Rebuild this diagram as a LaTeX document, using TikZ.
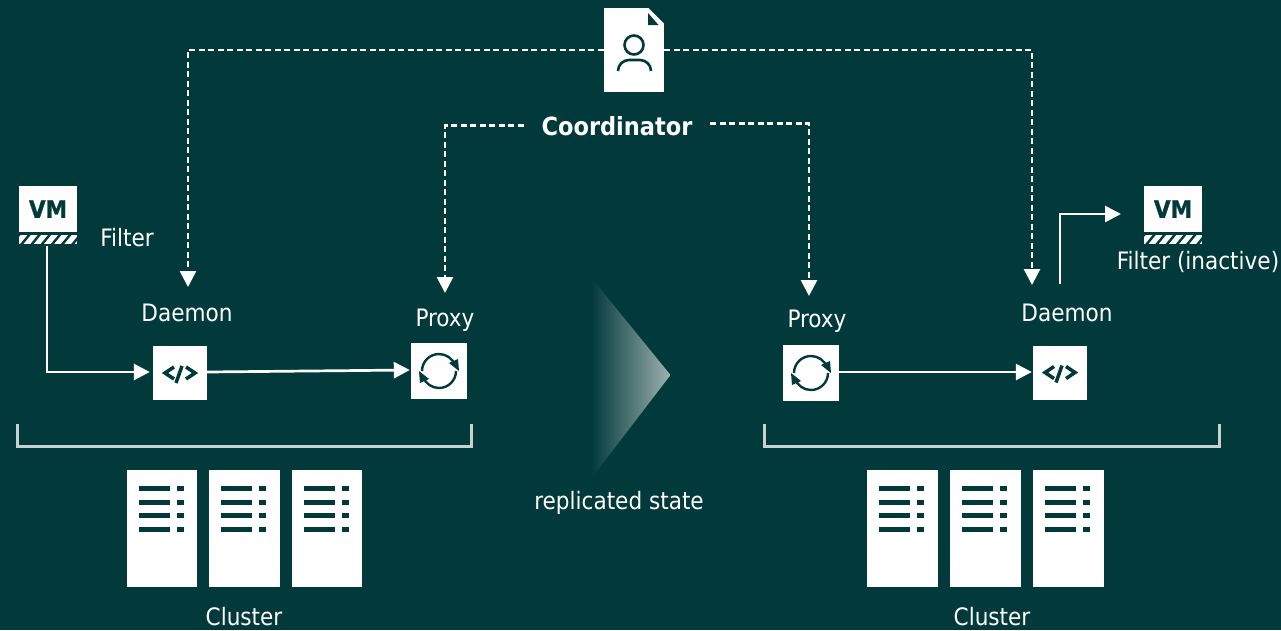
\documentclass[tikz,border=0pt]{standalone}
\usepackage{fontspec}
\setmainfont{DejaVu Sans Condensed}
\usetikzlibrary{arrows.meta,calc}
\definecolor{bg}{HTML}{023A3C}
\definecolor{tipcol}{HTML}{9DB2B0}
\definecolor{brk}{HTML}{C9D1D0}
\tikzset{
  x=1pt,y=-1pt,
  lbl/.style={text=white,font=\fontsize{24}{26}\selectfont,inner sep=0pt},
  iconbox/.style={fill=white,draw=none,inner sep=0pt,minimum width=#1,minimum height=#1},
  vmbox/.style={fill=white,inner sep=0pt,minimum width=58pt,minimum height=46pt,text=bg,font=\bfseries\fontsize{24}{26}\selectfont\addfontfeatures{FakeBold=1.2}},
  vmstrip/.style={fill=white,inner sep=0pt,minimum width=58pt,minimum height=9pt},
  server/.style={fill=white,inner sep=0pt,minimum width=70.5pt,minimum height=117pt},
  dashline/.style={draw=white,line width=2.7pt,dash pattern=on 6pt off 3.5pt,-{Triangle[width=16pt,length=16pt]}},
  solidline/.style={draw=white,line width=2.7pt,-{Triangle[width=16pt,length=16pt]}},
  iconline/.style={draw=bg,line width=3.5pt},
  bracket/.style={draw=brk,line width=3pt}
}
\newcommand{\hatchstrip}[1]{%
  \begin{scope}
    \clip (#1.north west) rectangle (#1.south east);
    \foreach \k in {-1,...,6} {
      \draw[bg,line width=2.4pt] ($(#1.south west)+(\k*10.2+2,1)$) -- ($(#1.south west)+(\k*10.2+11,-10)$);
    }
  \end{scope}}
\newcommand{\serverlines}[1]{%
  \foreach \r in {19,32.5,46,60} {
    \fill[bg] ($(#1.north west)+(12,\r-2.5)$) rectangle ($(#1.north west)+(43,\r+2.5)$);
    \fill[bg] ($(#1.north west)+(50,\r-2.5)$) rectangle ($(#1.north west)+(57,\r+2.5)$);
  }}
\newcommand{\codeicon}[1]{%
  \draw[iconline,line cap=butt] ($(#1)+(-6,-6)$) -- ($(#1)+(-15,0)$) -- ($(#1)+(-6,6)$);
  \draw[iconline] ($(#1)+(2,-7)$) -- ($(#1)+(-4,10)$);
  \draw[iconline] ($(#1)+(6,-6)$) -- ($(#1)+(15,0)$) -- ($(#1)+(6,6)$);}
\newcommand{\syncicon}[1]{%
  \draw[draw=bg,line width=2.4pt] ($(#1)+(-17,0)$) arc[start angle=180,end angle=20,radius=17pt];
  \draw[draw=bg,line width=2.4pt] ($(#1)+(17,0)$) arc[start angle=0,end angle=-160,radius=17pt];
  \fill[bg] ($(#1)+(10,-8)$) -- ($(#1)+(19,-12)$) -- ($(#1)+(20,0)$) -- cycle;
  \fill[bg] ($(#1)+(-10,8)$) -- ($(#1)+(-19,12)$) -- ($(#1)+(-20,0)$) -- cycle;}
\begin{document}
\begin{tikzpicture}
\fill[bg] (0,0) rectangle (1281,630);
\useasboundingbox (0,0) rectangle (1281,630);

% coordinator document
\node[iconbox=60pt,minimum height=84pt] (doc) at (634,50) {};
\fill[bg] (647.5,7) -- (665,7) -- (665,24.5) -- cycle;
\fill[bg] (648,13) -- (658.5,25) -- (648,25) -- cycle;
\draw[bg,line width=2.6pt] (634,45) circle[radius=9.5pt];
\draw[bg,line width=2.6pt] (618,71) arc[start angle=180,end angle=90,radius=11pt] -- (640,60) arc[start angle=90,end angle=0,radius=11pt];

\node[lbl,font=\bfseries\fontsize{25}{26}\selectfont,inner xsep=17.5pt] (coord) at (617,126.5) {Coordinator};

% VM filters
\node[vmbox] (vmL) at (48,209) {VM};
\node[vmstrip] (stripL) at (48,239.5) {};
\hatchstrip{stripL}
\node[vmbox] (vmR) at (1173,209) {VM};
\node[vmstrip] (stripR) at (1173,239.5) {};
\hatchstrip{stripR}

% icon boxes
\node[iconbox=54pt] (daemonL) at (180,373) {};
\codeicon{daemonL}
\node[iconbox=56pt] (proxyL) at (439,371) {};
\syncicon{proxyL}
\node[iconbox=56pt] (proxyR) at (811,373) {};
\syncicon{proxyR}
\node[iconbox=54pt] (daemonR) at (1060,372.5) {};
\codeicon{daemonR}

% free ends
\coordinate (daemonLtip) at (188,287);
\coordinate (proxyLtip) at (445,293);
\coordinate (proxyRtip) at (809,296);
\coordinate (daemonRtip) at (1032,285);
\coordinate (vmRtip) at (1121,214);
\coordinate (daemonRout) at (1060,284);

% connectors
\draw[dashline] (doc.west) -| (daemonLtip);
\draw[dashline] (doc.east) -| (daemonRtip);
\draw[dashline] ([yshift=1pt]coord.west) -| (proxyLtip);
\draw[dashline] ([yshift=3pt]coord.east) -| (proxyRtip);
\draw[solidline] ([xshift=-1pt,yshift=-2pt]stripL.south) |- ([xshift=-3pt,yshift=1pt]daemonL.west);
\draw[solidline] ([yshift=1pt]daemonL.east) -- ([xshift=-1pt,yshift=1pt]proxyL.west);
\draw[solidline] ([yshift=1pt]proxyR.east) -- ([xshift=-1pt,yshift=0.5pt]daemonR.west);
\draw[solidline] (daemonRout) |- (vmRtip);

% labels
\node[lbl] (filterL) at (127,238) {Filter};
\node[lbl] (daemonLlab) at (187,313) {Daemon};
\node[lbl] (proxyLlab) at (445,320) {Proxy};
\node[lbl] (proxyRlab) at (817,321) {Proxy};
\node[lbl] (daemonRlab) at (1067,313) {Daemon};
\node[lbl] (filterR) at (1198,261.5) {Filter (inactive)};
\node[lbl] (state) at (619,503) {replicated state};
\node[lbl] (clusterL) at (244,616.5) {Cluster};
\node[lbl] (clusterR) at (992,616.5) {Cluster};

% brackets
\draw[bracket] (17,424) -- (17,446) -- (471,446) -- (471,424);
\draw[bracket] (764,424) -- (764,446) -- (1219,446) -- (1219,424);

% servers
\foreach \n/\cx in {s1/162,s2/244.5,s3/327,s4/902.5,s5/985.5,s6/1068.5} {
  \node[server] (\n) at (\cx,528.5) {};
  \serverlines{\n}
}

% replication triangle
\begin{scope}
  \clip (591.5,278) -- (670.5,375) -- (591.5,478) -- cycle;
  \shade[left color=bg,right color=tipcol] (591.5,278) rectangle (670.5,478);
\end{scope}
\end{tikzpicture}
\end{document}
